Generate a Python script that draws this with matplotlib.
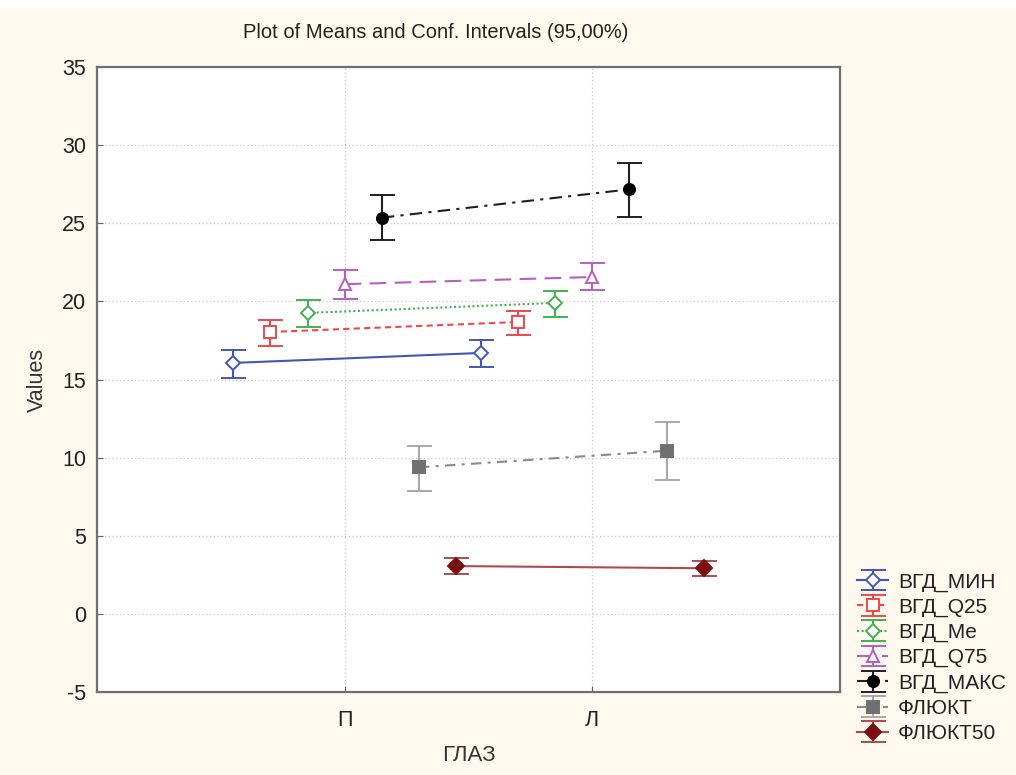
import matplotlib.pyplot as plt
import numpy as np
from matplotlib.patches import Rectangle

plt.rcParams['font.family'] = ['Liberation Sans', 'DejaVu Sans']
plt.rcParams['axes.unicode_minus'] = False

# data
groups = ['П', 'Л']
series = ['ВГД_МИН', 'ВГД_Q25', 'ВГД_Me', 'ВГД_Q75', 'ВГД_МАКС', 'ФЛЮКТ', 'ФЛЮКТ50']
means = [[16.06, 16.7], [18.04, 18.68], [19.26, 19.9], [21.1, 21.56],
         [25.36, 27.17], [9.38, 10.44], [3.06, 2.92]]
ci_low = [[15.1, 15.8], [17.14, 17.85], [18.36, 19.0], [20.13, 20.7],
          [23.93, 25.38], [7.88, 8.57], [2.53, 2.44]]
ci_high = [[16.9, 17.5], [18.8, 19.38], [20.1, 20.68], [22.0, 22.46],
           [26.8, 28.84], [10.74, 12.3], [3.55, 3.38]]

# styles
line_col = ['#4257b8', '#f04848', '#3fb34f', '#b45fc2', '#202020', '#8a8a8a', '#b04a4a']
err_col = ['#4257b8', '#f04848', '#3fb34f', '#b45fc2', '#202020', '#a8a8a8', '#b04a4a']
mk_col = ['#4257b8', '#f04848', '#3fb34f', '#b45fc2', '#000000', '#707070', '#7a1010']
mk_face = ['white', 'white', 'white', 'white', '#000000', '#707070', '#7a1010']
markers = ['D', 's', 'D', '^', 'o', 's', 'D']
msizes = [7.5, 8, 7.5, 8.5, 8, 8.5, 8]
lstyles = ['-', (0, (3, 2)), (0, (1, 1.2)), (0, (8, 4)), (0, (6, 3, 1.5, 3)),
           (0, (5, 3, 1.5, 3)), '-']
offsets = [-0.45, -0.3, -0.15, 0.0, 0.15, 0.3, 0.45]

fig = plt.figure(figsize=(10.16, 7.75), dpi=100, facecolor='#fdf9ef')
fig.patches.append(Rectangle((0, 1 - 8 / 775.), 1, 8 / 775., transform=fig.transFigure,
                             facecolor='white', edgecolor='none', zorder=0))
ax = fig.add_axes([97 / 1016., 1 - 692 / 775., 743 / 1016., 625 / 775.])
ax.set_facecolor('white')

x = np.arange(len(groups))
for i, name in enumerate(series):
    m = np.array(means[i])
    yerr = [m - np.array(ci_low[i]), np.array(ci_high[i]) - m]
    ax.errorbar(x + offsets[i], m, yerr=yerr, color=line_col[i], ecolor=err_col[i],
                linestyle=lstyles[i], linewidth=1.5, elinewidth=1.5, capsize=9,
                capthick=1.5, marker=markers[i], markersize=msizes[i],
                markerfacecolor=mk_face[i], markeredgecolor=mk_col[i],
                markeredgewidth=1.4, label=name, zorder=3)

ax.set_xlim(-1, 2)
ax.set_ylim(-5, 35)
ax.set_xticks(x)
ax.set_xticklabels(groups)
ax.set_yticks(np.arange(-5, 36, 5))
ax.grid(True, color='#c8c8c8', linestyle=(0, (1, 2)), linewidth=0.9)
ax.tick_params(direction='in', length=4, color='#606060', labelsize=15.5, pad=8,
               labelcolor='#222222')
ax.tick_params(axis='x', pad=13)
for s in ax.spines.values():
    s.set_color('#707070')
    s.set_linewidth(1.6)

ax.set_xlabel('ГЛАЗ', fontsize=16, color='#333333', labelpad=10)
ax.set_ylabel('Values', fontsize=15.5, color='#333333', labelpad=10)
fig.text(436 / 1016., 1 - 32 / 775., 'Plot of Means and Conf. Intervals (95,00%)',
         ha='center', va='center', fontsize=14.5, color='#222222')

ax.legend(loc='lower left', bbox_to_anchor=(853 / 1016., 28 / 775.),
          bbox_transform=fig.transFigure, frameon=False, fontsize=15,
          handlelength=1.5, handletextpad=0.45, labelspacing=0.29,
          borderpad=0.2, borderaxespad=0, labelcolor='#222222')

fig.savefig('out.png', dpi=100, facecolor=fig.get_facecolor())
